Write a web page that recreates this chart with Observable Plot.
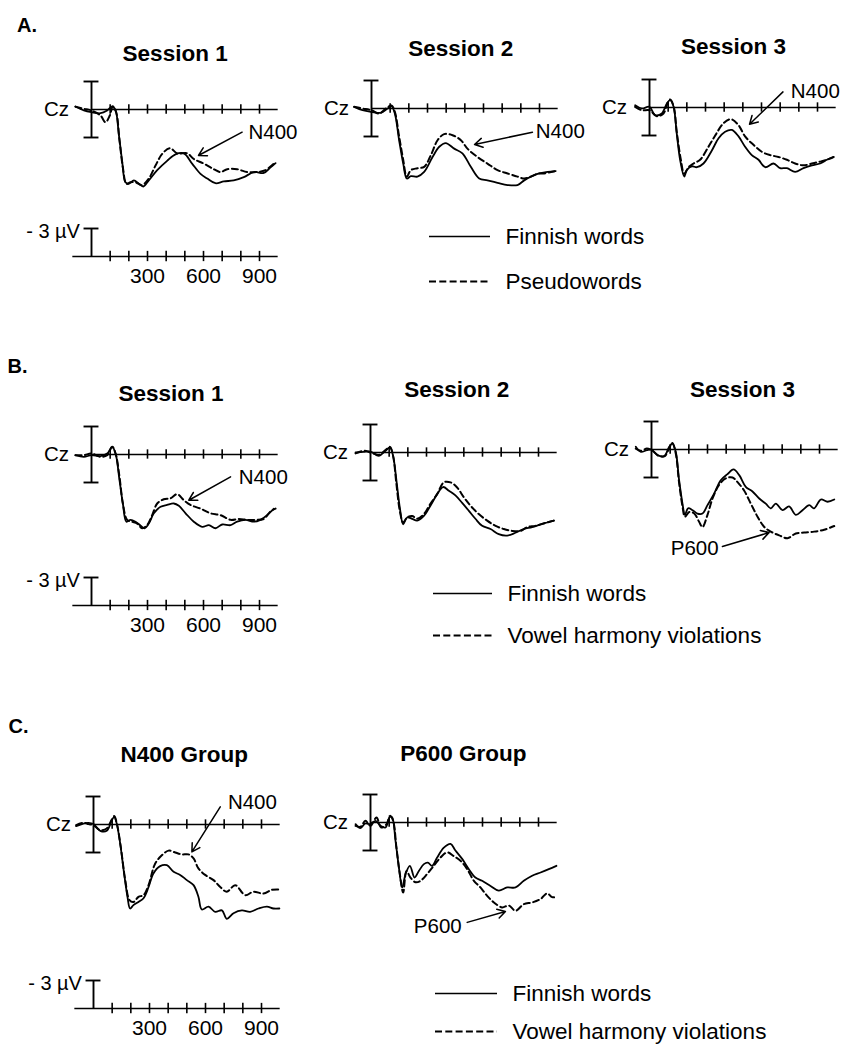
<!DOCTYPE html>
<html><head><meta charset="utf-8">
<script src="https://cdn.jsdelivr.net/npm/d3@7"></script>
<script src="https://cdn.jsdelivr.net/npm/@observablehq/plot@0.6"></script>
<style>
html,body{margin:0;padding:0;background:#fff;}
#fig{position:relative;width:843px;height:1052px;overflow:hidden;background:#fff;}
</style></head><body><div id="fig"></div><script>
// ---------------- DATA (time in ms, amplitude in µV; negative plotted up) ----------------
const tickTimes = [100, 200, 300, 400, 500, 600, 700, 800, 900];
const tickLabels = [300, 600, 900];
const scaleLabel = "- 3 µV";
const electrode = "Cz";
const legendA = ["Finnish words", "Pseudowords"];
const legendBC = ["Finnish words", "Vowel harmony violations"];
const sectionLabels = ["A.", "B.", "C."];
const titlesA = ["Session 1", "Session 2", "Session 3"];
const titlesB = ["Session 1", "Session 2", "Session 3"];
const titlesC = ["N400 Group", "P600 Group"];

// A. Finnish words vs pseudowords
const a1Finnish = [[-86,-0.32],[-41,0.1],[0,0.29],[48,0.4],[84,0.1],[111,-0.32],[129,0.1],[146,2.6],[164,5.5],[182,7.8],[200,7.96],[227,7.6],[254,7.96],[277,8.25],[307,7.6],[352,6.5],[405,5.5],[450,4.8],[495,4.7],[539,5.8],[584,6.9],[620,7.4],[664,7.9],[709,7.7],[762,7.6],[816,7.25],[870,6.7],[923,6.8],[959,6.2],[986,5.75]];
const a1Pseudo = [[-86,-0.3],[-41,-0.07],[0,0.1],[48,0.64],[75,1.36],[98,0.64],[114,-0.32],[132,0.29],[150,3.3],[168,6.2],[187,7.96],[209,7.8],[236,7.8],[271,8.1],[307,7.4],[343,6.0],[379,4.75],[420,4.14],[459,4.7],[513,4.7],[548,5.3],[602,5.8],[655,6.4],[691,6.7],[727,6.4],[780,6.4],[834,6.7],[888,6.7],[932,6.5],[977,5.8]];
const a2Finnish = [[-93,-0.18],[-48,0.18],[0,0.36],[50,0.46],[86,0],[107,-0.25],[125,0.54],[148,3.4],[170,5.9],[189,7.5],[211,7.25],[246,7.3],[282,6.8],[327,5.2],[363,4.1],[398,3.7],[443,4.3],[487,4.8],[532,6.25],[577,7.5],[621,7.7],[675,7.96],[729,8.2],[782,8.2],[818,7.7],[854,7.3],[898,6.96],[943,6.8],[987,6.7]];
const a2Pseudo = [[-93,-0.18],[-48,0],[0,0.18],[41,0.54],[77,0],[107,-0.32],[125,0.36],[148,3.0],[170,5.5],[189,7.3],[211,6.6],[246,6.4],[282,6.25],[318,5.0],[354,3.4],[389,2.75],[434,2.86],[479,3.4],[514,4.3],[568,5.2],[621,5.9],[675,6.6],[729,6.96],[782,7.3],[818,7.5],[854,7.3],[889,7.0],[925,6.96],[961,6.8],[987,6.7]];
const a3Finnish = [[-77,-0.25],[-41,0.1],[0,-0.07],[30,0.82],[66,0.64],[93,-0.43],[111,-0.79],[129,-0.07],[146,2.8],[164,5.6],[186,7.4],[200,6.7],[227,6.3],[254,6.4],[289,6.0],[334,4.6],[370,3.3],[405,2.6],[441,2.4],[477,3.1],[512,4.2],[548,5.1],[584,5.6],[620,6.4],[664,6.0],[700,6.5],[736,6.5],[780,6.9],[825,6.5],[870,6.2],[914,6.0],[950,5.6],[986,5.3]];
const a3Pseudo = [[-77,-0.07],[-41,0.29],[0,0.29],[39,0.93],[75,0.64],[96,-0.43],[111,-0.86],[129,-0.14],[146,2.6],[168,5.6],[186,7.1],[209,6.4],[236,6.0],[271,5.6],[316,4.2],[352,3.0],[396,1.7],[436,1.25],[477,1.9],[512,3.1],[557,4.0],[602,4.75],[646,5.1],[691,5.3],[736,5.6],[780,6.0],[825,6.2],[870,6.0],[914,5.8],[950,5.6],[986,5.3]];

// B. Finnish words vs vowel harmony violations
const b1Finnish = [[-86,0.07],[-41,0.25],[0,0.07],[48,0.18],[84,-0.1],[111,-0.82],[129,-0.1],[150,2.75],[168,5.25],[187,7.2],[209,7.0],[236,7.2],[262,7.6],[284,7.9],[307,7.4],[334,6.3],[370,5.6],[405,5.4],[441,5.25],[468,5.5],[504,6.3],[548,7.2],[593,7.75],[629,7.57],[664,7.9],[700,7.5],[745,7.57],[780,7.2],[825,7.0],[870,7.2],[905,7.0],[941,6.5],[977,5.8]];
const b1Violation = [[-86,0.07],[-41,0.07],[0,-0.1],[48,0.25],[84,0.07],[111,-0.82],[129,-0.1],[150,2.4],[168,5.25],[191,7.0],[218,7.2],[245,7.4],[271,7.9],[298,7.57],[325,6.5],[352,5.25],[387,4.8],[423,4.7],[459,4.25],[495,4.9],[530,5.4],[584,5.8],[637,6.3],[691,6.5],[745,7.0],[789,6.9],[834,7.0],[879,7.0],[923,6.9],[959,6.1],[986,5.8]];
const b2Finnish = [[-80,0],[-36,-0.07],[0,-0.1],[45,0.36],[80,-0.18],[104,-0.54],[121,0.36],[139,3.0],[157,5.9],[175,7.7],[196,6.96],[223,7.1],[250,7.3],[286,6.8],[321,5.7],[357,4.46],[389,3.7],[420,4.1],[455,4.6],[491,5.4],[527,6.25],[562,7.1],[598,7.86],[643,8.2],[687,8.75],[732,8.9],[777,8.6],[821,8.2],[866,8.0],[911,7.7],[946,7.5],[982,7.3]];
const b2Violation = [[-80,0.1],[-36,-0.18],[0,0],[45,0.25],[80,-0.25],[104,-0.6],[121,0.36],[139,3.4],[157,6.25],[175,7.5],[196,6.96],[223,6.8],[250,7.1],[286,6.6],[321,5.5],[357,4.46],[393,3.2],[429,3.2],[464,3.75],[500,4.8],[536,5.7],[580,6.6],[625,7.3],[670,7.86],[714,8.2],[759,8.4],[804,8.4],[839,8.0],[884,7.86],[929,7.6],[982,7.3]];
const b3Finnish = [[-84,-0.29],[-57,0.25],[-25,0.07],[0,0],[32,0.6],[68,0.7],[95,-0.29],[112,-0.64],[130,0.25],[148,3.3],[166,5.8],[179,7.0],[196,6.3],[220,6.5],[246,6.86],[273,6.86],[300,5.96],[336,4.7],[371,3.3],[407,2.64],[439,2.14],[470,2.75],[505,4.0],[541,4.5],[577,5.25],[612,5.8],[639,6.3],[666,5.8],[702,6.5],[737,6.1],[773,7.0],[809,6.5],[845,5.96],[871,6.3],[907,5.36],[943,5.6],[979,5.36]];
const b3Violation = [[-84,-0.1],[-57,0.14],[-25,-0.1],[0,0.07],[41,0.7],[71,0.7],[98,-0.29],[112,-0.7],[130,0.43],[148,3.6],[166,6.1],[179,7.2],[202,6.7],[229,6.86],[255,7.75],[273,8.3],[300,7.0],[327,5.25],[362,3.8],[398,3.1],[434,3.0],[461,3.5],[496,4.4],[532,5.8],[568,7.2],[604,8.3],[639,8.8],[684,9.2],[729,9.5],[773,9.0],[818,8.9],[871,8.8],[925,8.6],[979,8.2]];

// C. Groups
const c1Finnish = [[-93,0.18],[-54,-0.1],[-27,-0.18],[0,-0.04],[36,0.68],[71,0.68],[98,-0.46],[111,-0.82],[125,-0.04],[143,2.04],[164,5.25],[182,7.75],[196,9.0],[214,8.64],[241,8.3],[268,7.9],[295,6.7],[321,5.25],[357,4.46],[393,4.36],[429,5.07],[464,5.4],[500,5.96],[536,6.5],[562,7.75],[580,9.1],[616,8.8],[652,9.36],[688,9.2],[714,10.1],[750,9.5],[795,9.2],[839,9.36],[884,9.0],[929,8.8],[964,9.0],[996,9.0]];
const c1Violation = [[-93,0.07],[-54,-0.18],[-27,-0.04],[0,0.07],[36,0.6],[71,0.43],[98,-0.54],[111,-0.9],[125,-0.1],[146,2.4],[170,5.96],[193,8.1],[214,8.3],[241,7.75],[268,7.57],[295,6.5],[330,4.2],[366,3.3],[402,2.8],[438,3.0],[473,3.2],[509,3.2],[536,3.64],[562,4.7],[598,5.4],[643,5.96],[679,6.7],[714,7.2],[759,6.5],[813,7.57],[857,7.2],[911,7.4],[955,7.0],[996,6.96]];
const c2Finnish = [[-80,0.18],[-54,0.6],[-27,0.1],[0,0.18],[27,-0.18],[54,0.36],[80,0.54],[104,-0.6],[116,-0.54],[134,1.96],[152,4.8],[170,6.96],[188,5.5],[211,4.64],[236,5.9],[259,5.2],[286,4.46],[307,4.3],[330,4.64],[357,3.75],[393,2.7],[429,2.3],[455,3.0],[491,3.9],[527,5.0],[562,5.9],[598,6.25],[643,6.8],[687,7.3],[732,6.96],[777,6.96],[821,6.25],[866,5.7],[911,5.36],[955,5.0],[996,4.64]];
const c2Violation = [[-80,0.36],[-54,0.46],[-27,-0.18],[0,0.36],[32,-0.54],[57,0.54],[86,0.18],[104,-0.71],[121,-0.18],[139,2.7],[157,5.5],[175,7.5],[193,5.2],[214,5.9],[241,6.4],[268,6.25],[304,5.5],[339,4.64],[375,3.75],[411,3.2],[446,3.6],[482,4.1],[518,5.0],[554,6.25],[589,6.96],[625,7.86],[661,8.57],[705,9.1],[741,8.9],[777,9.46],[821,8.75],[866,8.57],[911,8.2],[946,7.6],[973,8.0],[996,8.0]];

// Component annotations (label position and arrow, in ms / µV of their panel)
const a1Notes = [{label: "N400", tx: 841, ty: 3.2, x1: 807, y1: 2.43, x2: 573, y2: 4.93}];
const a2Notes = [{label: "N400", tx: 880, ty: 3.21, x1: 862, y1: 2.54, x2: 552, y2: 3.85}];
const a3Notes = [{label: "N400", tx: 757, ty: -1.07, x1: 715, y1: -1.67, x2: 536, y2: 1.79}];
const b1Notes = [{label: "N400", tx: 789, ty: 3.18, x1: 745, y1: 2.4, x2: 521, y2: 4.9}];
const b3Notes = [{label: "P600", tx: 103, ty: 11.3, x1: 380, y1: 10.4, x2: 630, y2: 8.9}];
const c1Notes = [{label: "N400", tx: 720, ty: -1.71, x1: 679, y1: -1.89, x2: 527, y2: 2.93}];
const c2Notes = [{label: "P600", tx: 232, ty: 11.8, x1: 518, y1: 10.7, x2: 723, y2: 9.54}];

// ---------------- LAYOUT ----------------
const FONT = '"Liberation Sans", Arial, Helvetica, sans-serif';
const MS100 = 18.667;      // px per 100 ms
const UV3 = 28;            // px per 3 µV
const OX = 110, OY = 110;  // origin inside each panel svg
const DASH = "6,3.5";
const fig = document.getElementById("fig");

function place(svg, left, top) {
  svg.setAttribute("style",
    `position:absolute;left:${left}px;top:${top}px;background:transparent;overflow:visible;font-family:${FONT};max-width:none;`);
  fig.appendChild(svg);
}

function scales() {
  return {
    x: {domain: [0, 1000], range: [OX, OX + MS100 * 10], axis: null},
    y: {domain: [0, 3], range: [OY, OY + UV3], axis: null}
  };
}

function erpPanel(ox, oy, title, titleAt, finnish, other, notes) {
  const svg = Plot.plot({
    width: 310, height: 250, margin: 0,
    ...scales(),
    marks: [
      Plot.ruleY([0], {x1: 0, x2: 1000, stroke: "#000", strokeWidth: 1.7}),
      Plot.ruleX(tickTimes, {y1: -0.5, y2: 0.5, stroke: "#000", strokeWidth: 1.6}),
      Plot.ruleX([0], {y1: -3, y2: 3, stroke: "#000", strokeWidth: 1.9}),
      Plot.ruleY([-3, 3], {x1: -40, x2: 40, stroke: "#000", strokeWidth: 1.9}),
      Plot.line(finnish, {x: d => d[0], y: d => d[1], curve: "catmull-rom", stroke: "#000", strokeWidth: 1.8}),
      Plot.line(other, {x: d => d[0], y: d => d[1], curve: "catmull-rom", stroke: "#000", strokeWidth: 2, strokeDasharray: DASH}),
      Plot.text([electrode], {x: -120, y: 0, text: d => d, textAnchor: "end", lineAnchor: "middle", fontSize: 20.5, fill: "#000"}),
      Plot.text([title], {x: titleAt[0], y: titleAt[1], text: d => d, textAnchor: "middle", lineAnchor: "bottom", fontSize: 22.5, fontWeight: "bold", fill: "#000"}),
      Plot.arrow(notes, {x1: "x1", y1: "y1", x2: "x2", y2: "y2", stroke: "#000", strokeWidth: 1.5, headLength: 9}),
      Plot.text(notes, {x: "tx", y: "ty", text: "label", textAnchor: "start", lineAnchor: "bottom", fontSize: 20.5, fill: "#000"})
    ]
  });
  place(svg, ox - OX, oy - OY);
}

function scaleAxis(ox, oy) {
  const svg = Plot.plot({
    width: 310, height: 160, margin: 0,
    ...scales(),
    marks: [
      Plot.ruleY([0], {x1: -100, x2: 1000, stroke: "#000", strokeWidth: 1.7}),
      Plot.ruleX(tickTimes, {y1: -0.55, y2: 0.55, stroke: "#000", strokeWidth: 1.6}),
      Plot.ruleX([0], {y1: -3, y2: 0, stroke: "#000", strokeWidth: 1.9}),
      Plot.ruleY([-3], {x1: -40, x2: 40, stroke: "#000", strokeWidth: 1.9}),
      Plot.text([scaleLabel], {x: -62, y: -2.65, text: d => d, textAnchor: "end", lineAnchor: "middle", fontSize: 20, fill: "#000"}),
      Plot.text(tickLabels, {x: d => d, y: 2.85, text: d => String(d), textAnchor: "middle", lineAnchor: "bottom", fontSize: 21, fill: "#000"})
    ]
  });
  place(svg, ox - OX, oy - OY);
}

function legend(left, right, y0, y1, labels) {
  const svg = Plot.plot({
    width: 380, height: 100, margin: 0,
    x: {domain: [0, 1], range: [20, 20 + right - left], axis: null},
    y: {type: "point", domain: labels, range: [30, 30 + y1 - y0], padding: 0, axis: null},
    marks: [
      Plot.ruleY([labels[0]], {x1: 0, x2: 1, stroke: "#000", strokeWidth: 1.7}),
      Plot.ruleY([labels[1]], {x1: 0, x2: 1, stroke: "#000", strokeWidth: 2.1, strokeDasharray: "7,3.3"}),
      Plot.text(labels, {x: 1, y: d => d, text: d => d, dx: 15, textAnchor: "start", lineAnchor: "middle", fontSize: 22.5, fill: "#000"})
    ]
  });
  place(svg, left - 20, y0 - 30);
}

// Panels A
erpPanel(91, 109, titlesA[0], [448, -5.25], a1Finnish, a1Pseudo, a1Notes);
erpPanel(370.7, 108.3, titlesA[1], [478, -5.6], a2Finnish, a2Pseudo, a2Notes);
erpPanel(649.3, 107.3, titlesA[2], [450, -5.68], a3Finnish, a3Pseudo, a3Notes);
scaleAxis(91, 256);
legend(429, 490, 236, 281, legendA);

// Panels B
erpPanel(91, 454.3, titlesB[0], [426, -5.74], b1Finnish, b1Violation, b1Notes);
erpPanel(370, 451.7, titlesB[1], [462, -5.9], b2Finnish, b2Violation, []);
erpPanel(650.7, 449.3, titlesB[2], [487, -5.64], b3Finnish, b3Violation, b3Notes);
scaleAxis(91, 605);
legend(433, 492, 592.5, 635, legendBC);

// Panels C
erpPanel(93.3, 824.3, titlesC[0], [486, -6.7], c1Finnish, c1Violation, c1Notes);
erpPanel(370, 821.7, titlesC[1], [497, -6.6], c2Finnish, c2Violation, c2Notes);
scaleAxis(93.3, 1008.3);
legend(435, 497, 992.7, 1030.7, legendBC);

// Section letters
const over = d3.select(fig).append("svg")
  .attr("width", 843).attr("height", 1052)
  .attr("style", `position:absolute;left:0;top:0;font-family:${FONT};`);
over.selectAll("text").data(sectionLabels).join("text")
  .attr("x", (d, i) => [17, 7.5, 8.5][i])
  .attr("y", (d, i) => [31.7, 373.3, 733][i])
  .attr("font-size", 20).attr("font-weight", "bold").text(d => d);
</script></body></html>
